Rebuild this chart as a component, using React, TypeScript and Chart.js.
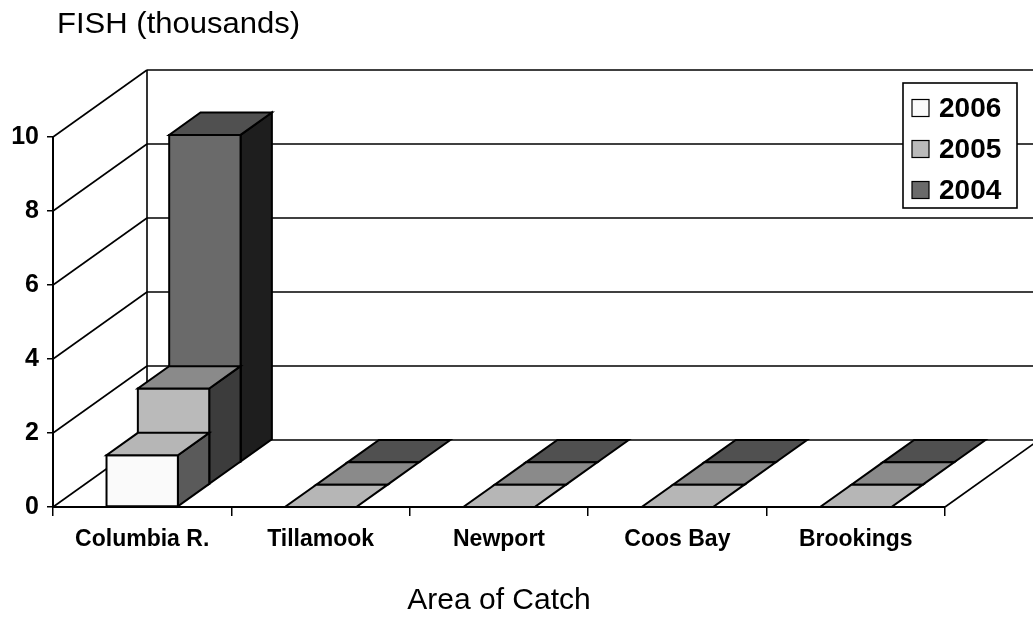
import React, { useEffect, useRef } from 'react';
import { Chart, registerables } from 'chart.js';

Chart.register(...registerables);

// ---------------- data ----------------
const CATEGORIES = ['Columbia R.', 'Tillamook', 'Newport', 'Coos Bay', 'Brookings'];
const SERIES_LABELS = ['2006', '2005', '2004'];
const VALUES_2006 = [1.4, 0, 0, 0, 0];
const VALUES_2005 = [2.6, 0, 0, 0, 0];
const VALUES_2004 = [8.85, 0, 0, 0, 0];
const Y_MIN = 0;
const Y_MAX = 10;
const Y_STEP = 2;
const CHART_TITLE = 'FISH (thousands)';
const X_TITLE = 'Area of Catch';

// ---------------- styles ----------------
const FONT = '"Liberation Sans", Arial, sans-serif';
const FRONT = ['#fafafa', '#bababa', '#6a6a6a'];
const TOP = ['#b6b6b6', '#8a8a8a', '#505050'];
const SIDE = ['#5a5a5a', '#3c3c3c', '#1e1e1e'];
const DEPTH_X = 94; // total depth of the 3D box (px)
const DEPTH_Y = 67;

function line(ctx: CanvasRenderingContext2D, x1: number, y1: number, x2: number, y2: number) {
  ctx.beginPath();
  ctx.moveTo(x1, y1);
  ctx.lineTo(x2, y2);
  ctx.stroke();
}

function poly(ctx: CanvasRenderingContext2D, pts: number[][], fill: string) {
  ctx.beginPath();
  ctx.moveTo(pts[0][0], pts[0][1]);
  for (let i = 1; i < pts.length; i++) ctx.lineTo(pts[i][0], pts[i][1]);
  ctx.closePath();
  ctx.fillStyle = fill;
  ctx.fill();
  ctx.stroke();
}

const threeDPlugin = {
  id: 'threeD',
  beforeDatasetsDraw(chart: any) {
    const ctx: CanvasRenderingContext2D = chart.ctx;
    const { left, right, bottom } = chart.chartArea;
    const ys = chart.scales.y;
    const nRows = chart.data.datasets.length;
    const rdx = DEPTH_X / nRows;
    const rdy = DEPTH_Y / nRows;
    ctx.save();
    ctx.strokeStyle = '#000';
    ctx.lineWidth = 1.6;
    ctx.lineJoin = 'miter';
    // walls
    for (let v = Y_MIN; v <= Y_MAX; v += Y_STEP) {
      const py = ys.getPixelForValue(v);
      line(ctx, left, py, left + DEPTH_X, py - DEPTH_Y);
      line(ctx, left + DEPTH_X, py - DEPTH_Y, chart.width + 20, py - DEPTH_Y);
    }
    line(ctx, left + DEPTH_X, ys.getPixelForValue(Y_MAX) - DEPTH_Y, left + DEPTH_X, bottom - DEPTH_Y);
    // floor right edge
    line(ctx, right, bottom, right + DEPTH_X, bottom - DEPTH_Y);

    // bars, back row first
    ctx.lineWidth = 2;
    for (let d = nRows - 1; d >= 0; d--) {
      const meta = chart.getDatasetMeta(d);
      const values = chart.data.datasets[d].data as number[];
      const ox = d * rdx;
      const oy = -d * rdy;
      meta.data.forEach((el: any, i: number) => {
        const p = el.getProps(['x', 'y', 'base', 'width'], true);
        const l = p.x - p.width / 2 + ox;
        const r = p.x + p.width / 2 + ox;
        const t = p.y + oy;
        const b = p.base + oy;
        if (values[i] > 0) {
          poly(ctx, [[r, t], [r + rdx, t - rdy], [r + rdx, b - rdy], [r, b]], SIDE[d]);
          poly(ctx, [[l, t], [r, t], [r, b], [l, b]], FRONT[d]);
        }
        poly(ctx, [[l, t], [r, t], [r + rdx, t - rdy], [l + rdx, t - rdy]], TOP[d]);
      });
    }
    ctx.restore();
  },
  afterDraw(chart: any) {
    const ctx: CanvasRenderingContext2D = chart.ctx;
    ctx.save();
    // title
    ctx.fillStyle = '#000';
    ctx.font = `29px ${FONT}`;
    ctx.textBaseline = 'alphabetic';
    ctx.textAlign = 'left';
    ctx.translate(57, 33);
    ctx.scale(1.07, 1);
    ctx.fillText(CHART_TITLE, 0, 0);
    ctx.restore();

    // legend
    ctx.save();
    const bx = chart.width - 130;
    const by = 83;
    const bw = 114;
    const bh = 125;
    ctx.fillStyle = '#fff';
    ctx.fillRect(bx, by, bw, bh);
    ctx.strokeStyle = '#000';
    ctx.lineWidth = 1.6;
    ctx.strokeRect(bx, by, bw, bh);
    ctx.font = `bold 28px ${FONT}`;
    ctx.textBaseline = 'middle';
    ctx.textAlign = 'left';
    chart.data.datasets.forEach((ds: any, i: number) => {
      const cy = by + 25 + i * 41;
      ctx.fillStyle = FRONT[i];
      ctx.fillRect(bx + 9, cy - 8.5, 17, 17);
      ctx.lineWidth = 1.2;
      ctx.strokeRect(bx + 9, cy - 8.5, 17, 17);
      ctx.fillStyle = '#000';
      ctx.fillText(ds.label, bx + 36, cy + 1);
    });
    ctx.restore();
  },
};

export default function App() {
  const canvasRef = useRef<HTMLCanvasElement | null>(null);

  useEffect(() => {
    if (!canvasRef.current) return;
    const seriesValues = [VALUES_2006, VALUES_2005, VALUES_2004];
    const chart = new Chart(canvasRef.current, {
      type: 'bar',
      data: {
        labels: CATEGORIES,
        datasets: SERIES_LABELS.map((label, i) => ({
          label,
          data: seriesValues[i],
          backgroundColor: 'rgba(0,0,0,0)',
          borderWidth: 0,
          grouped: false,
          barPercentage: 0.4,
          categoryPercentage: 1,
        })),
      },
      options: {
        animation: false,
        responsive: true,
        maintainAspectRatio: false,
        devicePixelRatio: 1,
        layout: { padding: { top: 137, right: 88, left: 0, bottom: 0 } },
        plugins: {
          legend: { display: false },
          title: { display: false },
          tooltip: { enabled: false },
        },
        scales: {
          x: {
            offset: true,
            afterFit: (s: any) => { s.height = 114; },
            grid: {
              drawOnChartArea: false,
              drawTicks: true,
              tickLength: 9,
              color: '#000',
              lineWidth: 1.5,
              offset: true,
            },
            border: { display: true, color: '#000', width: 2 },
            ticks: {
              color: '#000',
              font: { family: FONT, size: 23, weight: 'bold' },
              padding: 10,
              maxRotation: 0,
            },
            title: {
              display: true,
              text: X_TITLE,
              color: '#000',
              font: { family: FONT, size: 30 },
              padding: { top: 4, bottom: 2 },
            },
          },
          y: {
            min: Y_MIN,
            max: Y_MAX,
            afterFit: (s: any) => { s.width = 53; },
            grid: {
              drawOnChartArea: false,
              drawTicks: true,
              tickLength: 6,
              color: '#000',
              lineWidth: 1.5,
            },
            border: { display: true, color: '#000', width: 2 },
            ticks: {
              stepSize: Y_STEP,
              color: '#000',
              font: { family: FONT, size: 25, weight: 'bold' },
              padding: 8,
            },
          },
        },
      },
      plugins: [threeDPlugin],
    } as any);
    return () => chart.destroy();
  }, []);

  return (
    <div style={{ position: 'fixed', left: 0, top: 0, width: 1033, height: 621, background: '#fff' }}>
      <canvas ref={canvasRef} />
    </div>
  );
}
